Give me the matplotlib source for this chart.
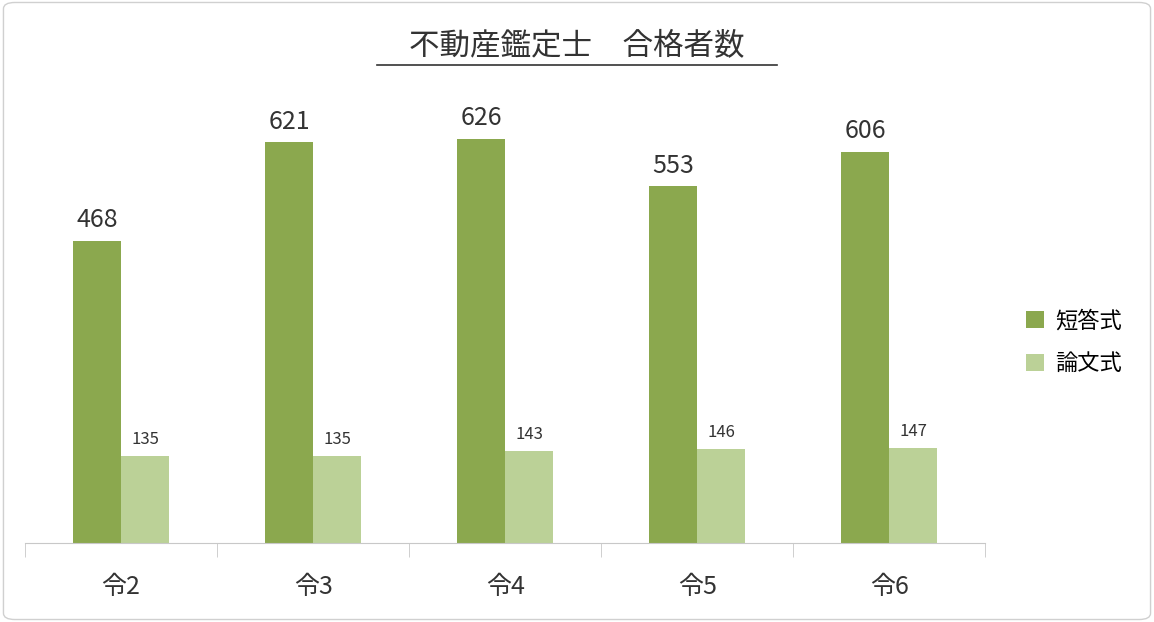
import matplotlib.pyplot as plt
import numpy as np
from matplotlib.patches import FancyBboxPatch

plt.rcParams['font.family'] = ['Noto Sans CJK JP', 'DejaVu Sans']

years = ["令2", "令3", "令4", "令5", "令6"]
short_answer = [468, 621, 626, 553, 606]
essay = [135, 135, 143, 146, 147]

DARK = "#8BA84E"
LIGHT = "#BBD197"

fig = plt.figure(figsize=(11.54, 6.22), dpi=100)
ax = fig.add_axes([0.0217, 0.127, 0.832, 0.726])

x = np.arange(len(years))
w = 0.25
b1 = ax.bar(x - w / 2, short_answer, w, color=DARK, label="短答式")
b2 = ax.bar(x + w / 2, essay, w, color=LIGHT, label="論文式")
for bar, v in zip(b1, short_answer):
    ax.text(bar.get_x() + bar.get_width() / 2, v + 12, str(v),
            ha="center", va="bottom", fontsize=18, color="#333333")
for bar, v in zip(b2, essay):
    ax.text(bar.get_x() + bar.get_width() / 2, v + 12, str(v),
            ha="center", va="bottom", fontsize=12, color="#333333")

ax.set_xlim(-0.5, len(years) - 0.5)
ax.set_ylim(0, 700)
ax.set_yticks([])
for s in ["top", "right", "left"]:
    ax.spines[s].set_visible(False)
ax.spines["bottom"].set_color("#C8C8C8")
ax.set_xticks(np.arange(-0.5, len(years)), minor=True)
ax.tick_params(axis="x", which="minor", length=10, color="#C8C8C8")
ax.set_xticks(x)
ax.set_xticklabels(years, fontsize=18, color="#333333")
ax.tick_params(axis="x", which="major", length=0, pad=22)

fig.text(0.5, 0.925, "不動産鑑定士　合格者数", ha="center", va="center",
         fontsize=22, color="#333333")
fig.add_artist(plt.Line2D([0.327, 0.673], [0.895, 0.895], color="#333333", lw=1.2))

fig.legend(handles=[b1, b2], loc="center left", bbox_to_anchor=(0.872, 0.45),
           frameon=False, fontsize=16, handlelength=0.8, handleheight=0.8,
           labelspacing=0.9, handletextpad=0.5)

fig.add_artist(FancyBboxPatch((0.003, 0.004), 0.994, 0.992,
                              boxstyle="round,pad=0,rounding_size=0.01",
                              transform=fig.transFigure, fill=False,
                              edgecolor="#D0D0D0", lw=1))

fig.savefig("out.png", dpi=100)
